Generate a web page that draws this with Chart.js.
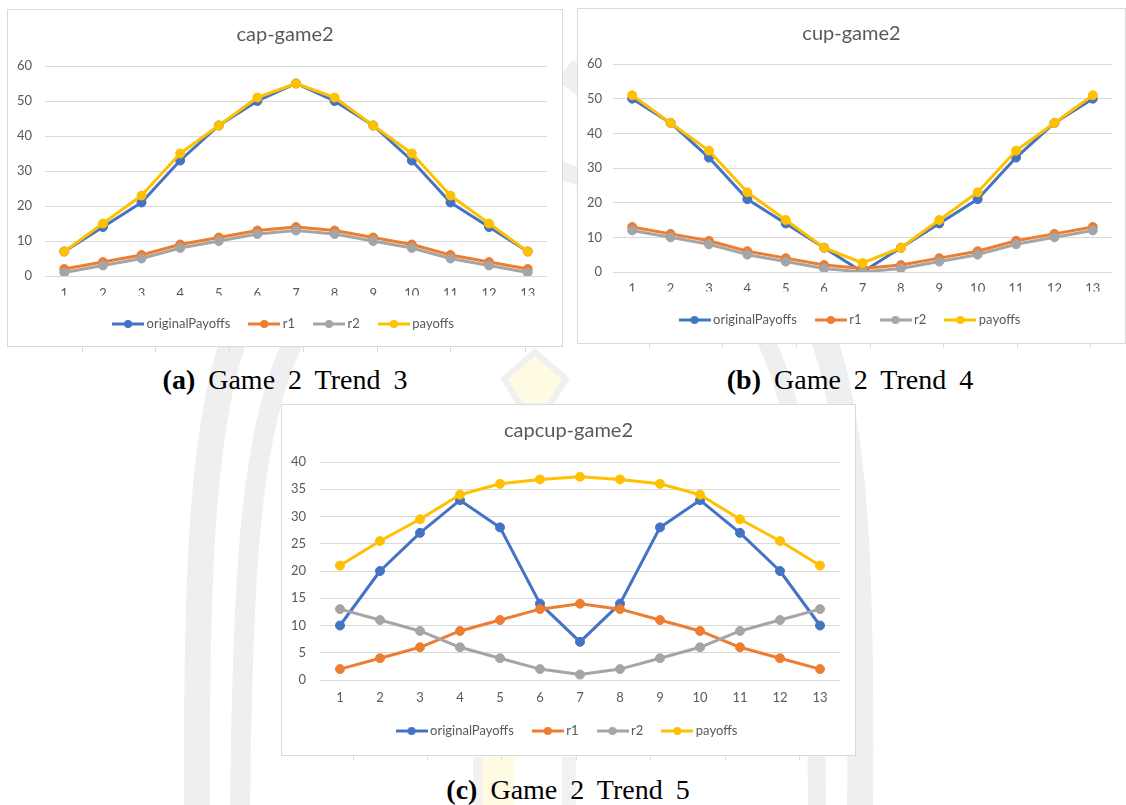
<!DOCTYPE html>
<html>
<head>
<meta charset="utf-8">
<script src="https://cdn.jsdelivr.net/npm/chart.js@4.4.1/dist/chart.umd.min.js"></script>
<style>
  html, body { margin: 0; padding: 0; background: #fff; }
  #page { position: relative; width: 1126px; height: 805px; overflow: hidden; background: #fff; }
  #bg { position: absolute; left: 0; top: 0; }
  .panel { position: absolute; box-sizing: border-box; border: 1px solid #d9d9d9; background: #fff; }
  .panel canvas { display: block; }
  .cap { position: absolute; transform: translate(-50%, -50%); white-space: nowrap;
         font-family: "Liberation Serif", "Times New Roman", serif; font-size: 28px;
         line-height: 1; color: #000; word-spacing: 6px; }
</style>
</head>
<body>
<div id="page">
  <!-- faint background emblem and sheet ticks -->
  <svg id="bg" width="1126" height="805">
    <g fill="none" stroke="#efefef" stroke-linecap="butt">
      <path d="M 197 820 C 196 600 200 440 232 345 S 330 170 530 95" stroke-width="26"/>
      <path d="M 240 820 C 242 580 250 430 292 345 S 380 210 530 170" stroke-width="20"/>
      <path d="M 860 820 C 862 600 858 440 826 345 S 700 170 565 70" stroke-width="26"/>
      <path d="M 817 820 C 816 580 808 430 768 345 S 680 210 560 170" stroke-width="18"/>
    </g>
    <polygon points="535,352 566,379 549,406 521,406 504,379" fill="#fffbe3" stroke="#f0f0f0" stroke-width="6"/>
    <rect x="482" y="757" width="32" height="48" fill="#fffbe2"/>
    <rect x="473" y="757" width="9" height="48" fill="#f2f2f2"/>
    <rect x="562" y="757" width="14" height="48" fill="#f2f2f2"/>
    <g stroke="#dcdcdc" stroke-width="1">
      <path d="M82.5 347v5M155.5 347v5M229.5 347v5M303.5 347v5M377.5 347v5M450.5 347v5M525.5 347v5"/>
      <path d="M649.5 343v5M722.5 343v5M796.5 343v5M870.5 343v5M943.5 343v5M1017.5 343v5M1090.5 343v5"/>
      <path d="M353.5 755v5M427.5 755v5M501.5 755v5M576.5 755v5M650.5 755v5M725.5 755v5M799.5 755v5"/>
    </g>
  </svg>

  <div class="panel" style="left:7px;top:9px;width:556px;height:338px"><canvas id="chartCap" width="554" height="336"></canvas></div>
  <div class="panel" style="left:577px;top:8px;width:549px;height:336px"><canvas id="chartCup" width="547" height="334"></canvas></div>
  <div class="panel" style="left:281px;top:404px;width:575px;height:352px"><canvas id="chartCapcup" width="573" height="350"></canvas></div>

  <div class="cap" style="left:285px;top:380px"><b>(a)</b> Game 2 Trend 3</div>
  <div class="cap" style="left:850px;top:380px"><b>(b)</b> Game 2 Trend 4</div>
  <div class="cap" style="left:568px;top:790px"><b>(c)</b> Game 2 Trend 5</div>
</div>

<script>
// ---- data ----
const categories = ['1', '2', '3', '4', '5', '6', '7', '8', '9', '10', '11', '12', '13'];
const seriesNames = ['originalPayoffs', 'r1', 'r2', 'payoffs'];

const capOriginal = [7, 14, 21, 33, 43, 50, 55, 50, 43, 33, 21, 14, 7];
const capR1       = [2, 4, 6, 9, 11, 13, 14, 13, 11, 9, 6, 4, 2];
const capR2       = [1, 3, 5, 8, 10, 12, 13, 12, 10, 8, 5, 3, 1];
const capPayoffs  = [7, 15, 23, 35, 43, 51, 55, 51, 43, 35, 23, 15, 7];

const cupOriginal = [50, 43, 33, 21, 14, 7, 0, 7, 14, 21, 33, 43, 50];
const cupR1       = [13, 11, 9, 6, 4, 2, 1, 2, 4, 6, 9, 11, 13];
const cupR2       = [12, 10, 8, 5, 3, 1, 0, 1, 3, 5, 8, 10, 12];
const cupPayoffs  = [51, 43, 35, 23, 15, 7, 2.6, 7, 15, 23, 35, 43, 51];

const capcupOriginal = [10, 20, 27, 33, 28, 14, 7, 14, 28, 33, 27, 20, 10];
const capcupR1       = [2, 4, 6, 9, 11, 13, 14, 13, 11, 9, 6, 4, 2];
const capcupR2       = [13, 11, 9, 6, 4, 2, 1, 2, 4, 6, 9, 11, 13];
const capcupPayoffs  = [21, 25.5, 29.5, 34, 36, 36.8, 37.3, 36.8, 36, 34, 29.5, 25.5, 21];

// value axis ranges (min, max, step)
const capAxis    = [0, 60, 10];
const cupAxis    = [0, 60, 10];
const capcupAxis = [0, 40, 5];

// ---- style ----
const seriesColors = ['#4472C4', '#ED7D31', '#A5A5A5', '#FFC000'];
const TEXT = '#595959';
const GRID = '#d9d9d9';
const FONT = 'Lato, "Open Sans", sans-serif';
const TITLE_SIZE = 20, TICK_SIZE = 13, LEGEND_SIZE = 13;
const LEGEND_GAP = 22;

// legend marker: a short line with a dot in the middle
function legendMarker(color) {
  const c = document.createElement('canvas');
  c.width = 32; c.height = 10;
  const g = c.getContext('2d');
  g.strokeStyle = color; g.lineWidth = 3;
  g.beginPath(); g.moveTo(0, 5); g.lineTo(32, 5); g.stroke();
  g.fillStyle = color;
  g.beginPath(); g.arc(16, 5, 4, 0, Math.PI * 2); g.fill();
  return c;
}
const markers = seriesColors.map(legendMarker);

// keeps title and legend centred on the whole panel although the
// layout padding is only applied on the right-hand side
const recenter = {
  id: 'recenter',
  afterLayout(chart, args, opts) {
    const d = opts.shift || 0;
    [chart.legend, chart.titleBlock].forEach((b) => {
      if (b) { b.left += d; b.right += d; }
    });
  }
};

function buildChart(id, title, series, axis, geo) {
  const canvas = document.getElementById(id);
  const W = canvas.width, H = canvas.height;
  const side = W - geo.plotR;
  const titlePadTop = geo.titleY - TITLE_SIZE * 0.6;
  const titlePadBottom = geo.plotT - geo.titleY - TITLE_SIZE * 0.6;
  const padBottom = H - geo.legendY - LEGEND_SIZE / 2 - 10;
  const legendTop = H - padBottom - (LEGEND_SIZE + LEGEND_GAP + 10);
  const xAxisHeight = legendTop - geo.plotB;

  new Chart(canvas, {
    type: 'line',
    plugins: [recenter],
    data: {
      labels: categories,
      datasets: series.map((values, i) => ({
        label: seriesNames[i],
        data: values,
        borderColor: seriesColors[i],
        backgroundColor: seriesColors[i],
        pointBackgroundColor: seriesColors[i],
        pointBorderColor: seriesColors[i],
        borderWidth: 3,
        pointRadius: 4.5,
        pointBorderWidth: 1,
        tension: 0,
        borderJoinStyle: 'round',
        borderCapStyle: 'round',
        fill: false,
        order: series.length - i
      }))
    },
    options: {
      responsive: false,
      animation: false,
      events: [],
      layout: { padding: { left: 0, right: side, top: 0, bottom: padBottom } },
      plugins: {
        recenter: { shift: side / 2 },
        tooltip: { enabled: false },
        title: {
          display: true, text: title, color: TEXT,
          font: { family: FONT, size: TITLE_SIZE, weight: 'normal', lineHeight: 1.2 },
          padding: { top: titlePadTop, bottom: titlePadBottom }
        },
        legend: {
          display: true, position: 'bottom', align: 'center',
          labels: {
            usePointStyle: true, pointStyleWidth: 24, padding: LEGEND_GAP,
            color: TEXT, font: { family: FONT, size: LEGEND_SIZE },
            generateLabels: (chart) => chart.data.datasets.map((ds, i) => ({
              text: ds.label, datasetIndex: i, pointStyle: markers[i],
              fillStyle: seriesColors[i], strokeStyle: seriesColors[i],
              lineWidth: 0, hidden: false, fontColor: TEXT
            }))
          }
        }
      },
      scales: {
        x: {
          type: 'category', offset: true,
          grid: { display: false, drawTicks: false },
          border: { display: false },
          ticks: {
            color: TEXT, font: { family: FONT, size: TICK_SIZE, lineHeight: 1.2 },
            padding: geo.xLabelY - geo.plotB - TICK_SIZE * 0.6,
            maxRotation: 0, autoSkip: false
          },
          afterFit: (s) => { s.height = xAxisHeight; }
        },
        y: {
          min: axis[0], max: axis[1],
          grid: { color: GRID, lineWidth: 1, drawTicks: false },
          border: { display: false },
          ticks: {
            stepSize: axis[2], color: TEXT,
            font: { family: FONT, size: TICK_SIZE },
            padding: geo.plotL - geo.labelRight
          },
          afterFit: (s) => { s.width = geo.plotL; }
        }
      }
    }
  });
}

buildChart('chartCap', 'cap-game2', [capOriginal, capR1, capR2, capPayoffs], capAxis,
  { plotL: 37, plotR: 539, plotT: 56, plotB: 266, labelRight: 24, titleY: 25, xLabelY: 284, legendY: 314 });

buildChart('chartCup', 'cup-game2', [cupOriginal, cupR1, cupR2, cupPayoffs], cupAxis,
  { plotL: 35, plotR: 534, plotT: 55, plotB: 263, labelRight: 24, titleY: 25, xLabelY: 280, legendY: 311 });

buildChart('chartCapcup', 'capcup-game2', [capcupOriginal, capcupR1, capcupR2, capcupPayoffs], capcupAxis,
  { plotL: 38, plotR: 558, plotT: 57, plotB: 275, labelRight: 24, titleY: 26, xLabelY: 293, legendY: 326 });
</script>
</body>
</html>
